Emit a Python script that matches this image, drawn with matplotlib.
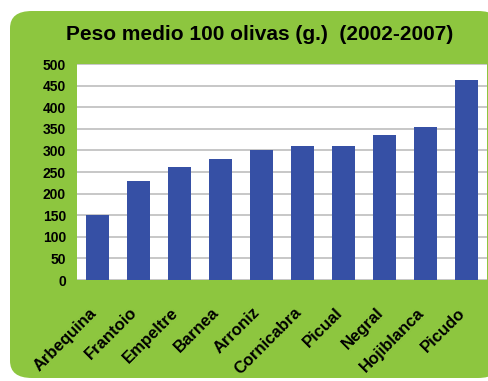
import numpy as np
import matplotlib.pyplot as plt
from matplotlib.patches import FancyBboxPatch
from matplotlib.transforms import ScaledTranslation

# datos
variedades = ['Arbequina', 'Frantoio', 'Empeltre', 'Barnea', 'Arroniz',
              'Cornicabra', 'Picual', 'Negral', 'Hojiblanca', 'Picudo']
peso = [150, 229, 262, 280, 300, 311, 311, 335, 354, 464]
yticks = [0, 50, 100, 150, 200, 250, 300, 350, 400, 450, 500]

plt.rcParams['font.family'] = ['Liberation Sans', 'DejaVu Sans']

fig = plt.figure(figsize=(4.89, 3.81), dpi=100)
fig.patch.set_facecolor('white')

# fondo verde redondeado
panel = FancyBboxPatch((10 / 489, 3 / 381), 490 / 489, 367 / 381,
                       boxstyle='round,pad=0,rounding_size=0.045',
                       transform=fig.transFigure, facecolor='#8dc63f',
                       edgecolor='none', zorder=-10)
fig.patches.append(panel)

ax = fig.add_axes([77 / 489, 101 / 381, 410 / 489, 216 / 381])
ax.set_zorder(5)
ax.set_facecolor('white')
x = np.arange(len(variedades))
ax.bar(x, peso, width=0.56, color='#3650a5', zorder=3)

ax.set_xlim(-0.5, len(variedades) - 0.5)
ax.set_ylim(0, 500)
ax.set_yticks(yticks)
ax.set_yticklabels([str(v) for v in yticks], fontsize=10, fontweight='bold')
ax.yaxis.grid(True, color='#bdbdbd', linewidth=1.2, zorder=0)
ax.set_axisbelow(True)
ax.tick_params(axis='y', length=0, pad=8)
ax.set_xticks(x)
ax.set_xticklabels(variedades, rotation=45, ha='right', rotation_mode='anchor',
                   fontsize=12, fontweight='bold')
ax.tick_params(axis='x', length=0, pad=18)
desplaza = ScaledTranslation(-9 / 100, 0, fig.dpi_scale_trans)
for lab in ax.get_xticklabels():
    lab.set_transform(lab.get_transform() + desplaza)
for s in ax.spines.values():
    s.set_visible(False)

fig.text(260 / 489, 1 - 34 / 381, 'Peso medio 100 olivas (g.)  (2002-2007)',
         ha='center', va='center', fontsize=15, fontweight='bold')

fig.savefig('out.png', dpi=100)
